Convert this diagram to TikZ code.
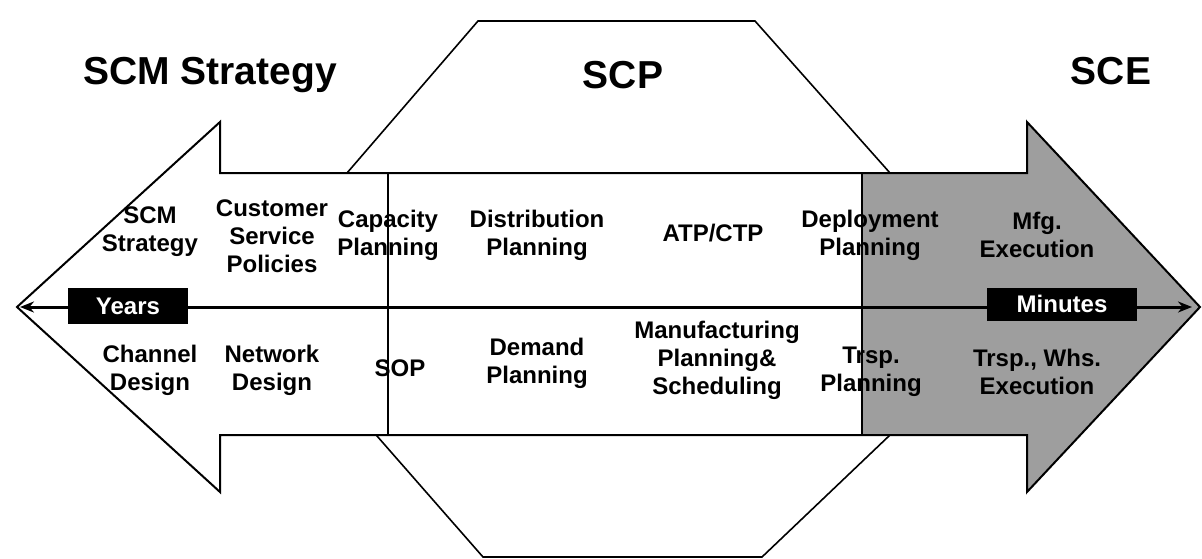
\documentclass[tikz,border=0pt]{standalone}
\usepackage{fontspec}
\setmainfont{Liberation Sans}
\usetikzlibrary{arrows.meta}
\usetikzlibrary{positioning}

\begin{document}
\begin{tikzpicture}[x=1pt, y=-1pt, line width=2pt,
	every node/.style={font=\bfseries\fontsize{24}{28}\selectfont, align=center, inner sep=0pt},
	title/.style={font=\bfseries\fontsize{39}{42}\selectfont, anchor=base},
	timebox/.style={fill=black, text=white, minimum height=36pt}]
	\useasboundingbox (0,0) rectangle (1202,559);
	% SCP octagon behind the arrow
	\draw[fill=white, line width=1.6pt] (478,21) -- (755,21) -- (890,173) -- (890,435) -- (762,557) -- (483,557) -- (377,436) -- (347,173) -- cycle;
	% double arrow
	\fill[white] (17,307) -- (220,122) -- (220,173) -- (1027,173) -- (1027,122) -- (1200,307) -- (1027,492) -- (1027,435) -- (220,435) -- (220,492) -- cycle;
	\fill[black!38] (862,173) -- (1027,173) -- (1027,122) -- (1200,307) -- (1027,492) -- (1027,435) -- (862,435) -- cycle;
	\draw (17,307) -- (220,122) -- (220,173) -- (1027,173) -- (1027,122) -- (1200,307) -- (1027,492) -- (1027,435) -- (220,435) -- (220,492) -- cycle;
	\draw (388,173) -- (388,435) (862,173) -- (862,435);
	% time axis
	\coordinate (ltip) at (20,307);
	\coordinate (rtip) at (1192,307);
	\draw[line width=3pt, {Stealth[length=14pt,width=11pt]}-{Stealth[length=14pt,width=11pt]}] (ltip) -- (rtip);
	\node[timebox, minimum width=120pt] (years) at (128,306) {Years};
	\node[timebox, minimum width=150pt, minimum height=33pt] (minutes) at (1062,304) {Minutes};
	% titles
	\node[title] (strat) at (210,85) {SCM Strategy};
	\node[title] (scp) at (623,89) {SCP};
	\node[title] (sce) at (1111,85) {SCE};
	% upper row
	\node (scms) at (150,232) {SCM\\Strategy};
	\node (csp) at (272,236) {Customer\\Service\\Policies};
	\node (cap) at (388,235) {Capacity\\Planning};
	\node (dist) at (537,235) {Distribution\\Planning};
	\node (atp) at (713,233) {ATP/CTP};
	\node (depl) at (870,235) {Deployment\\Planning};
	\node (mfg) at (1037,235) {Mfg.\\Execution};
	% lower row
	\node (chan) at (150,370) {Channel\\Design};
	\node (netw) at (272,370) {Network\\Design};
	\node (sop) at (400,368) {SOP};
	\node (dem) at (537,363) {Demand\\Planning};
	\node (manu) at (717,360) {Manufacturing\\Planning\&\\Scheduling};
	\node (trsp) at (871,372) {Trsp.\\Planning};
	\node (whs) at (1037,372) {Trsp., Whs.\\Execution};
\end{tikzpicture}
\end{document}
